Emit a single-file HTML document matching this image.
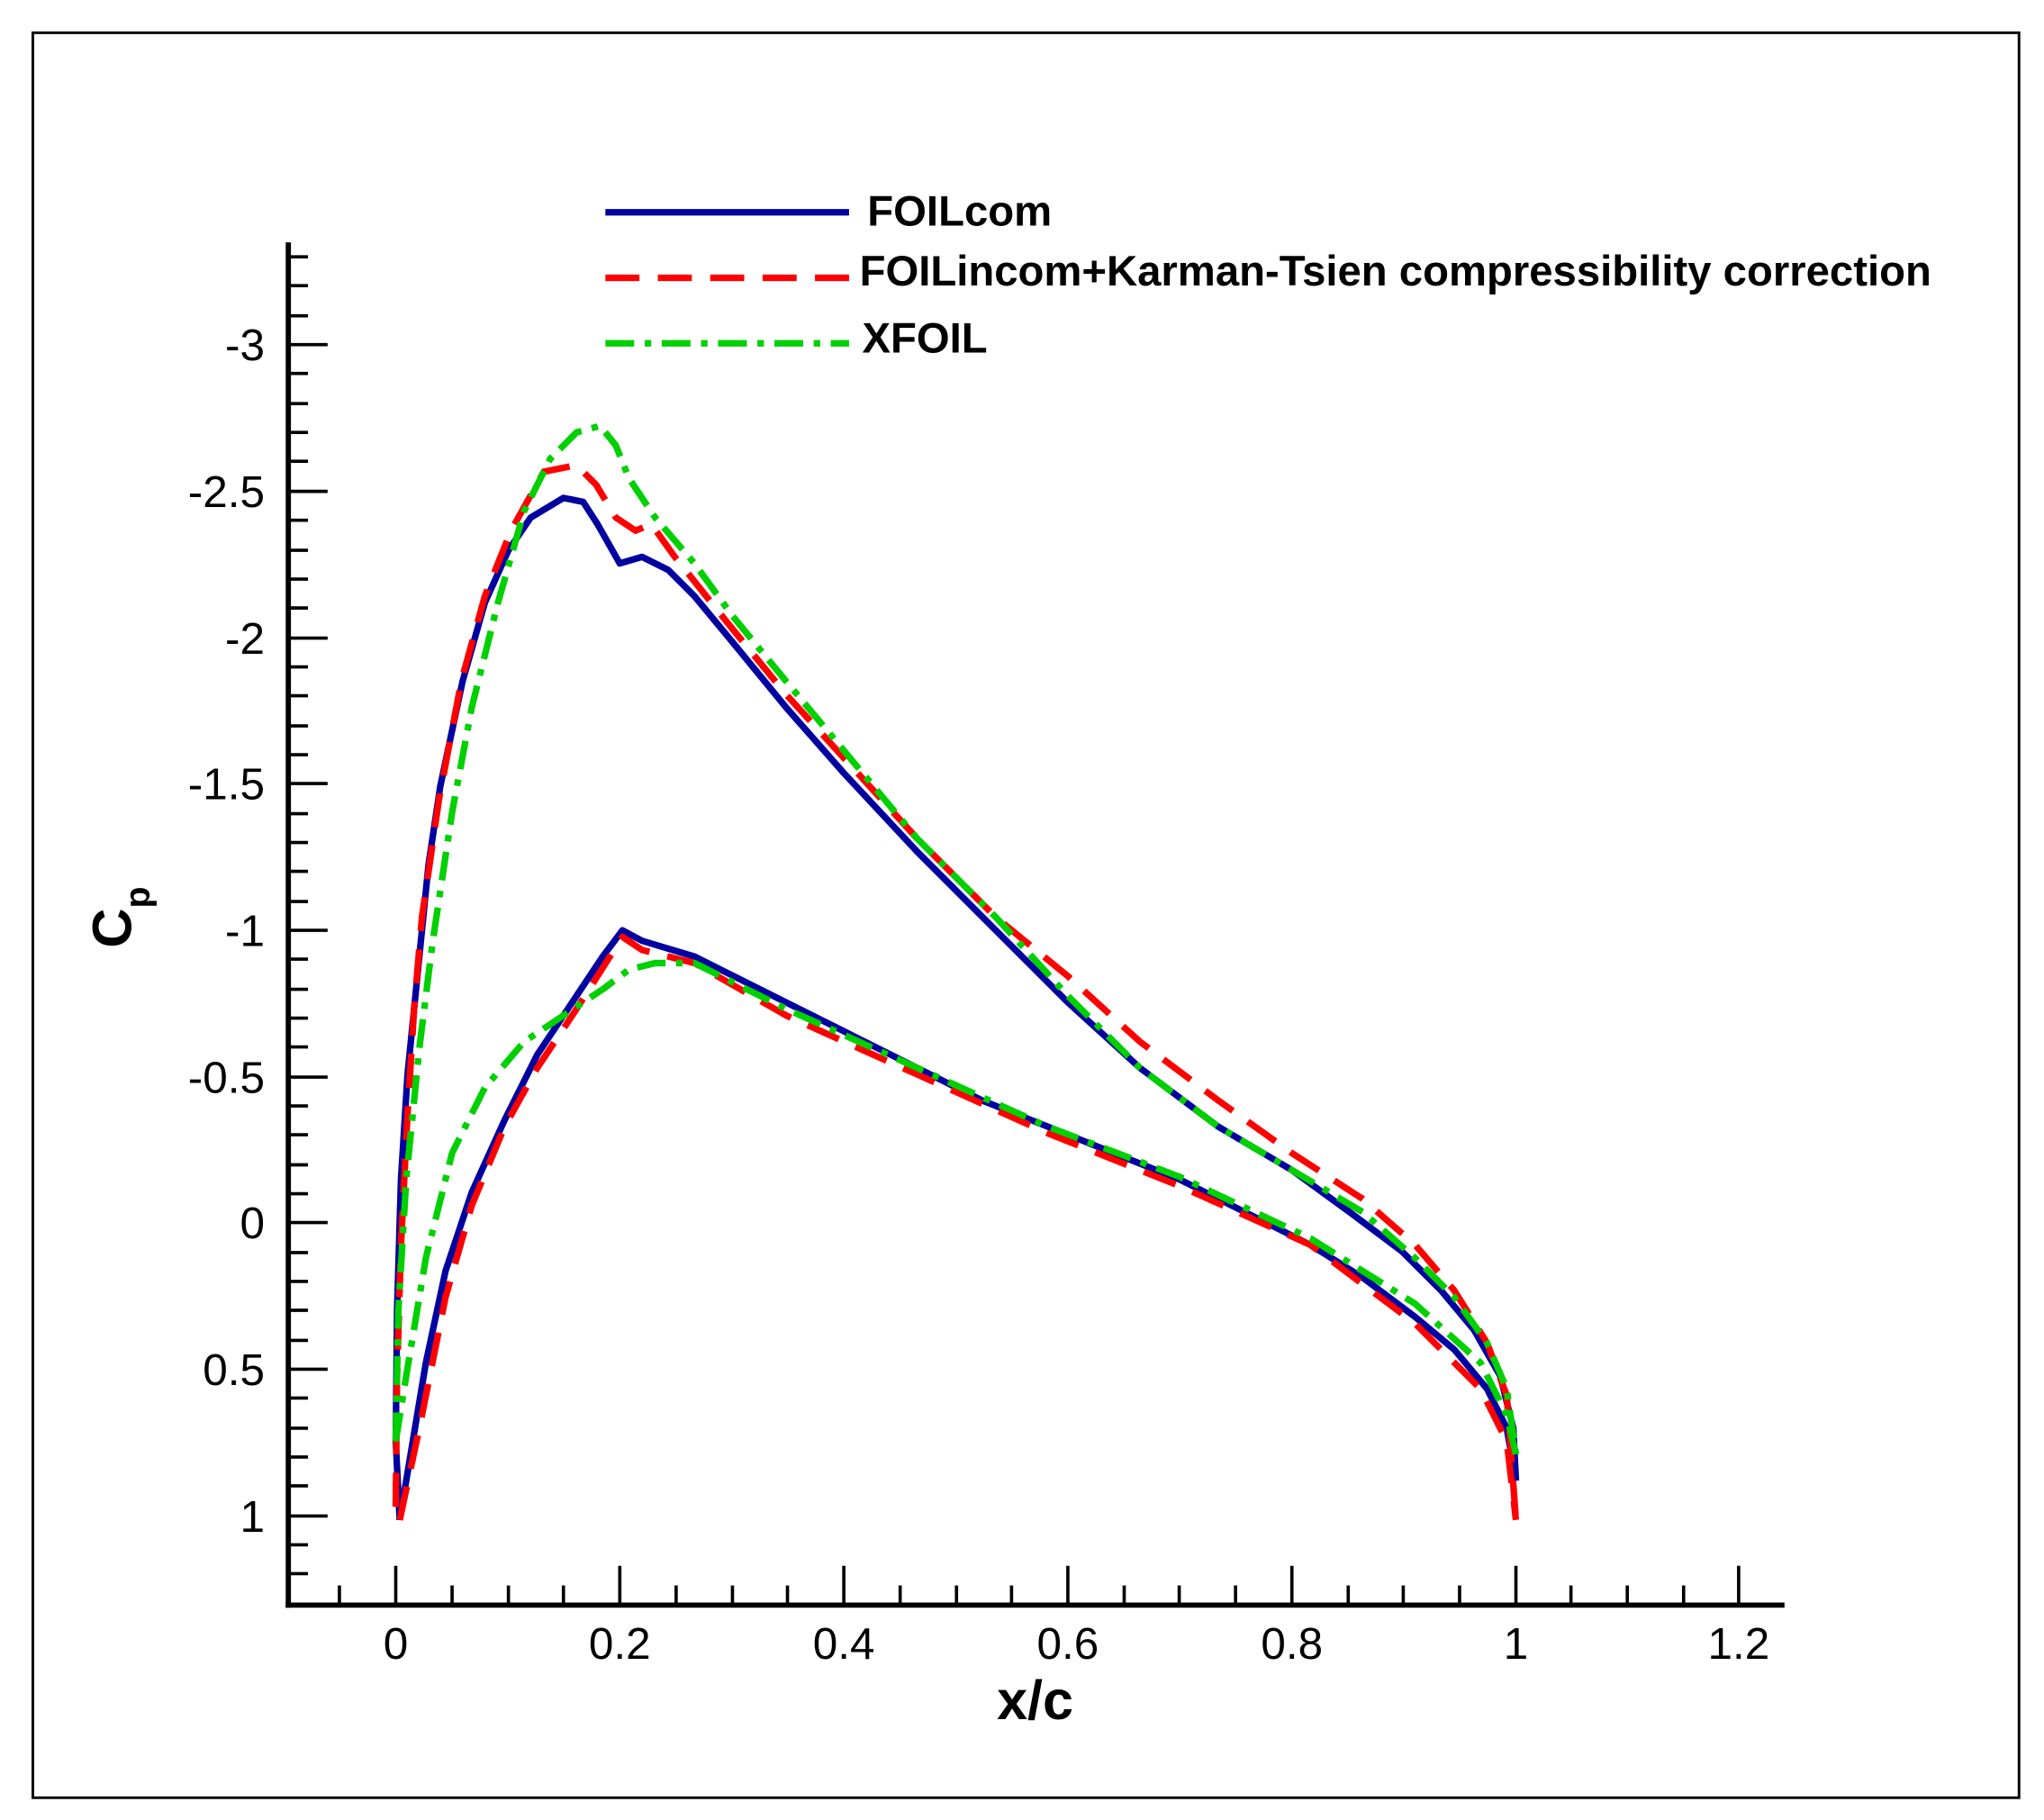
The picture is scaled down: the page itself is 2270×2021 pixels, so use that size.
<!DOCTYPE html>
<html><head><meta charset="utf-8"><style>html,body{margin:0;padding:0;background:#fff}svg{display:block}</style></head>
<body>
<svg width="2270" height="2021" viewBox="0 0 1560 1389" xmlns="http://www.w3.org/2000/svg" font-family="Liberation Sans, Arial, sans-serif">
<rect x="0" y="0" width="1560" height="1389" fill="#fff"/>
<rect x="25" y="25" width="1516" height="1347" fill="none" stroke="#000" stroke-width="2"/>
<g stroke="#000" stroke-width="4" fill="none">
<line x1="220" y1="185" x2="220" y2="1227"/>
<line x1="218" y1="1225" x2="1362" y2="1225"/>
</g>
<g stroke="#000" stroke-width="2.5">
<line x1="302" y1="1225" x2="302" y2="1195"/><line x1="473" y1="1225" x2="473" y2="1195"/><line x1="644" y1="1225" x2="644" y2="1195"/><line x1="815" y1="1225" x2="815" y2="1195"/><line x1="986" y1="1225" x2="986" y2="1195"/><line x1="1157" y1="1225" x2="1157" y2="1195"/><line x1="1327" y1="1225" x2="1327" y2="1195"/>
<line x1="259" y1="1225" x2="259" y2="1210"/><line x1="345" y1="1225" x2="345" y2="1210"/><line x1="388" y1="1225" x2="388" y2="1210"/><line x1="430" y1="1225" x2="430" y2="1210"/><line x1="516" y1="1225" x2="516" y2="1210"/><line x1="559" y1="1225" x2="559" y2="1210"/><line x1="601" y1="1225" x2="601" y2="1210"/><line x1="687" y1="1225" x2="687" y2="1210"/><line x1="730" y1="1225" x2="730" y2="1210"/><line x1="772" y1="1225" x2="772" y2="1210"/><line x1="858" y1="1225" x2="858" y2="1210"/><line x1="900" y1="1225" x2="900" y2="1210"/><line x1="943" y1="1225" x2="943" y2="1210"/><line x1="1029" y1="1225" x2="1029" y2="1210"/><line x1="1071" y1="1225" x2="1071" y2="1210"/><line x1="1114" y1="1225" x2="1114" y2="1210"/><line x1="1199" y1="1225" x2="1199" y2="1210"/><line x1="1242" y1="1225" x2="1242" y2="1210"/><line x1="1285" y1="1225" x2="1285" y2="1210"/>
<line x1="220" y1="263" x2="250" y2="263"/><line x1="220" y1="375" x2="250" y2="375"/><line x1="220" y1="487" x2="250" y2="487"/><line x1="220" y1="598" x2="250" y2="598"/><line x1="220" y1="710" x2="250" y2="710"/><line x1="220" y1="822" x2="250" y2="822"/><line x1="220" y1="933" x2="250" y2="933"/><line x1="220" y1="1045" x2="250" y2="1045"/><line x1="220" y1="1157" x2="250" y2="1157"/>
</g>
<g stroke="#000" stroke-width="2.5">
<path d="M220 196h15M220 218h15M220 241h15M220 285h15M220 308h15M220 330h15M220 352h15M220 397h15M220 420h15M220 442h15M220 464h15M220 509h15M220 531h15M220 554h15M220 576h15M220 621h15M220 643h15M220 665h15M220 688h15M220 732h15M220 755h15M220 777h15M220 799h15M220 844h15M220 866h15M220 889h15M220 911h15M220 956h15M220 978h15M220 1000h15M220 1023h15M220 1067h15M220 1090h15M220 1112h15M220 1134h15M220 1179h15M220 1201h15"/>
</g>
<g font-size="34" fill="#000" text-anchor="middle">
<text x="302" y="1266">0</text><text x="473" y="1266">0.2</text><text x="644" y="1266">0.4</text><text x="815" y="1266">0.6</text><text x="986" y="1266">0.8</text><text x="1157" y="1266">1</text><text x="1327" y="1266">1.2</text>
</g>
<g font-size="34" fill="#000" text-anchor="end">
<text x="202" y="275">-3</text><text x="202" y="387">-2.5</text><text x="202" y="499">-2</text><text x="202" y="610">-1.5</text><text x="202" y="722">-1</text><text x="202" y="834">-0.5</text><text x="202" y="945">0</text><text x="202" y="1057">0.5</text><text x="202" y="1169">1</text>
</g>
<text x="790" y="1312" font-size="42" font-weight="bold" text-anchor="middle">x/c</text>
<g transform="translate(100,700) rotate(-90)"><text x="0" y="0" font-size="42" font-weight="bold" text-anchor="middle">C<tspan font-size="27" dy="14">p</tspan></text></g>
<g fill="none" stroke-linejoin="round" stroke-linecap="butt">
<path stroke="#0000a0" stroke-width="5" d="M305,1160 L315,1100 L325,1040 L340,970 L360,910 L385,855 L410,805 L440,760 L460,730 L475,710 L490,718 L530,730 L560,745 L600,765 L650,790 L700,815 L750,840 L800,860 L850,880 L900,900 L950,925 L1000,950 L1040,975 L1080,1005 L1110,1030 L1135,1060 L1150,1090 L1157,1130"/>
<path stroke="#0000a0" stroke-width="5" d="M305,1160 L302,1100 L303,1000 L306,900 L311,820 L319,740 L327,660 L336,600 L353,520 L370,460 L388,420 L405,395 L430,380 L445,383 L456,400 L473,430 L490,425 L510,435 L530,455 L559,490 L600,540 L644,590 L700,650 L760,710 L815,765 L870,815 L930,860 L986,893 L1030,925 L1070,955 L1100,985 L1125,1015 L1145,1050 L1155,1090 L1157,1130"/>
<path stroke="#ff0000" stroke-width="5" stroke-dasharray="26,14" d="M305,1160 L320,1090 L340,990 L360,920 L385,860 L410,815 L440,770 L475,715 L490,725 L530,735 L600,775 L700,820 L800,865 L900,905 L1000,950 L1080,1010 L1130,1060 L1150,1100 L1157,1160"/>
<path stroke="#ff0000" stroke-width="5" stroke-dasharray="26,14" d="M302,1150 L303,1050 L306,950 L311,850 L316,770 L322,700 L335,610 L352,520 L370,455 L390,405 L415,360 L440,355 L455,370 L470,395 L485,405 L497,400 L515,425 L559,480 L600,530 L650,585 L700,640 L760,700 L815,745 L870,795 L930,840 L986,880 L1040,915 L1080,950 L1110,985 L1135,1025 L1150,1065 L1157,1160"/>
<path stroke="#00d000" stroke-width="5" stroke-dasharray="22,8,5,8" d="M302,1100 L304,1000 L310,900 L320,800 L330,720 L345,620 L360,540 L380,460 L400,390 L420,350 L440,330 L458,325 L470,340 L480,365 L500,395 L530,430 L559,470 L600,520 L650,580 L700,640 L760,700 L815,760 L870,815 L930,860 L986,893 L1040,925 L1080,960 L1110,990 L1135,1025 L1150,1060 L1157,1110"/>
<path stroke="#00d000" stroke-width="5" stroke-dasharray="22,8,5,8" d="M302,1100 L310,1050 L325,960 L345,880 L370,830 L400,795 L430,775 L460,755 L480,740 L500,735 L530,735 L600,770 L700,815 L800,860 L900,898 L1000,945 L1080,995 L1130,1040 L1150,1080 L1157,1110"/>
<line x1="462" y1="162" x2="648" y2="162" stroke="#0000a0" stroke-width="5"/>
<line x1="462" y1="212" x2="648" y2="212" stroke="#ff0000" stroke-width="5" stroke-dasharray="26,14"/>
<line x1="462" y1="262" x2="648" y2="262" stroke="#00d000" stroke-width="5" stroke-dasharray="22,8,5,8"/>
</g>
<g font-size="32.5" font-weight="bold" fill="#000">
<text x="662" y="172">FOILcom</text>
<text x="656" y="218">FOILincom+Karman-Tsien compressibility correction</text>
<text x="658" y="269">XFOIL</text>
</g>
</svg>
</body></html>
